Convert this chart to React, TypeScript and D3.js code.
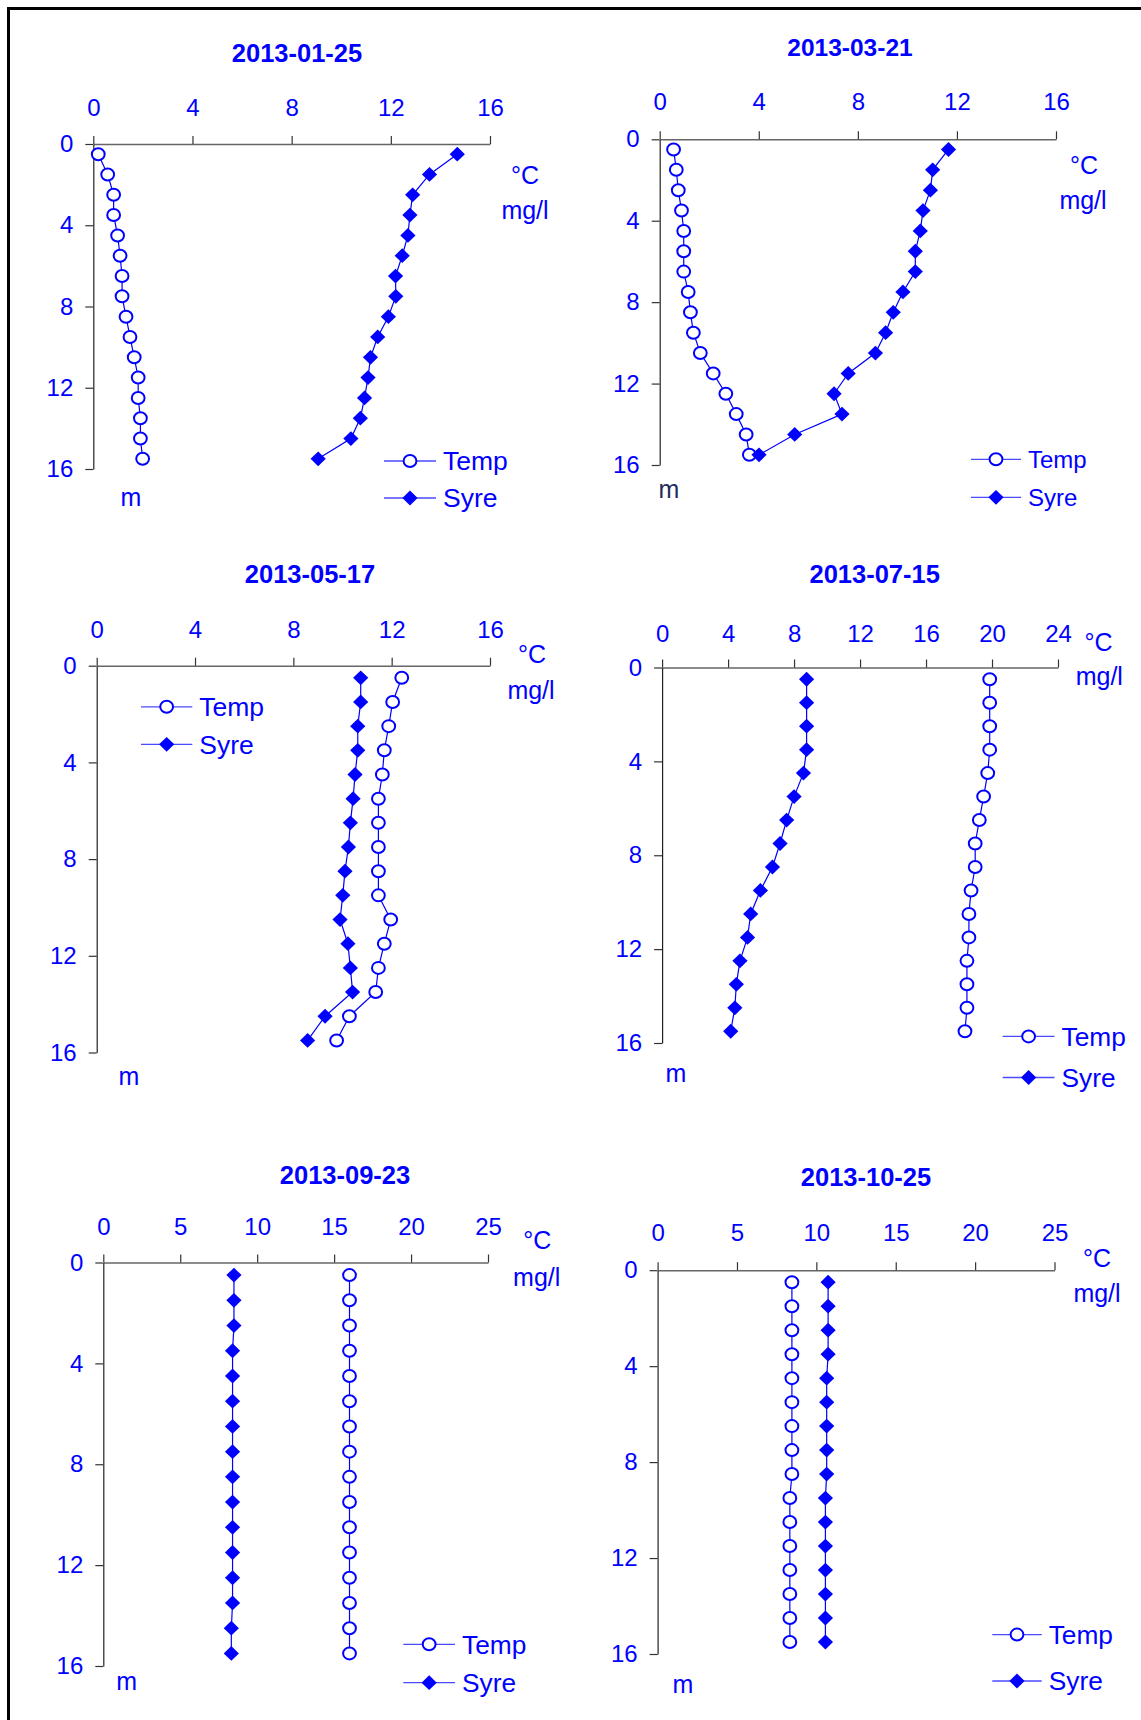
import React, { useEffect, useRef } from "react";
import * as d3 from "d3";

// depth (m) of each measurement
const depths = [0.5, 1.5, 2.5, 3.5, 4.5, 5.5, 6.5, 7.5, 8.5, 9.5, 10.5, 11.5, 12.5, 13.5, 14.5, 15.5];
const dates = ["2013-01-25", "2013-03-21", "2013-05-17", "2013-07-15", "2013-09-23", "2013-10-25"];

const temp_0125 = [0.2, 0.58, 0.82, 0.82, 0.98, 1.08, 1.16, 1.16, 1.32, 1.48, 1.65, 1.81, 1.81, 1.9, 1.9, 1.99];
const syre_0125 = [14.68, 13.56, 12.88, 12.77, 12.69, 12.46, 12.19, 12.2, 11.9, 11.47, 11.18, 11.08, 10.94, 10.77, 10.39, 9.07];

const temp_0321 = [0.56, 0.67, 0.75, 0.88, 0.97, 0.97, 0.97, 1.15, 1.24, 1.36, 1.64, 2.16, 2.67, 3.09, 3.49, 3.62];
const syre_0321 = [11.66, 11.02, 10.93, 10.63, 10.52, 10.32, 10.32, 9.82, 9.43, 9.12, 8.71, 7.61, 7.04, 7.36, 5.45, 4.01];

const temp_0517 = [12.41, 12.04, 11.88, 11.7, 11.62, 11.46, 11.46, 11.46, 11.46, 11.46, 11.96, 11.7, 11.46, 11.35, 10.28, 9.76];
const syre_0517 = [10.74, 10.74, 10.62, 10.62, 10.51, 10.43, 10.32, 10.24, 10.1, 10.01, 9.9, 10.22, 10.32, 10.41, 9.29, 8.58];

const temp_0715 = [19.86, 19.86, 19.86, 19.86, 19.74, 19.49, 19.23, 18.98, 18.98, 18.73, 18.6, 18.6, 18.48, 18.48, 18.48, 18.36];
const syre_0715 = [8.76, 8.76, 8.76, 8.76, 8.57, 8.0, 7.55, 7.15, 6.69, 5.96, 5.37, 5.18, 4.72, 4.5, 4.41, 4.16];

const temp_0923 = [16.0, 16.0, 16.0, 16.0, 16.0, 16.0, 16.0, 16.0, 16.0, 16.0, 16.0, 16.0, 16.0, 16.0, 16.0, 16.0];
const syre_0923 = [8.49, 8.49, 8.49, 8.4, 8.4, 8.4, 8.4, 8.4, 8.4, 8.4, 8.4, 8.4, 8.4, 8.4, 8.32, 8.32];

const temp_1025 = [8.46, 8.46, 8.46, 8.46, 8.46, 8.46, 8.46, 8.46, 8.46, 8.33, 8.33, 8.33, 8.33, 8.33, 8.33, 8.33];
const syre_1025 = [10.74, 10.74, 10.74, 10.74, 10.65, 10.65, 10.65, 10.65, 10.65, 10.57, 10.57, 10.57, 10.57, 10.57, 10.57, 10.57];

const ticks16 = [0, 4, 8, 12, 16];
const ticks24 = [0, 4, 8, 12, 16, 20, 24];
const ticks25 = [0, 5, 10, 15, 20, 25];
const depthTicks = [0, 4, 8, 12, 16];

const seriesNames = ["Temp", "Syre"];

const BLUE = "#0000ff";
const FONT = "'Liberation Sans', Arial, Helvetica, sans-serif";

// layout of each panel (pixel positions in the picture)
const layouts = [
  { x0: 93.3, x1: 490, y0: 144, y1: 469, xmax: 16, ticks: ticks16, pad: 20, title: [297, 53], tfs: 25.5,
    degC: [525, 175], mgl: [525, 210], m: [131, 498], leg: [384, 436, 461, 498], lfs: 26.5, mColor: BLUE },
  { x0: 659.7, x1: 1056, y0: 139.3, y1: 465, xmax: 16, ticks: ticks16, pad: 21, title: [850, 47], tfs: 24.5,
    degC: [1084, 165], mgl: [1083, 200], m: [669, 490], leg: [971, 1021, 459.3, 497.3], lfs: 24, mColor: "#1f2d5c" },
  { x0: 96.7, x1: 490, y0: 665.7, y1: 1052.5, xmax: 16, ticks: ticks16, pad: 20, title: [310, 574], tfs: 25.5,
    degC: [532, 654], mgl: [531, 690], m: [129, 1077.5], leg: [141, 192.3, 706.8, 744.3], lfs: 26.5, mColor: BLUE },
  { x0: 662.1, x1: 1058, y0: 667.5, y1: 1043, xmax: 24, ticks: ticks24, pad: 18, title: [874.7, 574], tfs: 25.5,
    degC: [1098.6, 642], mgl: [1099.3, 676], m: [676, 1074], leg: [1002.7, 1054.5, 1036.4, 1077.5], lfs: 26.3, mColor: BLUE },
  { x0: 103.3, x1: 488, y0: 1262.5, y1: 1666, xmax: 25, ticks: ticks25, pad: 19.5, title: [345, 1175], tfs: 25.5,
    degC: [537.3, 1240.6], mgl: [536.7, 1277], m: [126.7, 1682], leg: [403.3, 455, 1644.3, 1682.7], lfs: 26.3, mColor: BLUE },
  { x0: 657.6, x1: 1054.5, y0: 1270.2, y1: 1654, xmax: 25, ticks: ticks25, pad: 21, title: [866, 1177], tfs: 25.5,
    degC: [1097, 1258.4], mgl: [1097, 1293.5], m: [682.8, 1685.7], leg: [992.3, 1041.7, 1634.6, 1681], lfs: 26.3, mColor: BLUE },
];

const temps = [temp_0125, temp_0321, temp_0517, temp_0715, temp_0923, temp_1025];
const syres = [syre_0125, syre_0321, syre_0517, syre_0715, syre_0923, syre_1025];

const diamond = (w, h) => `M0,${-h}L${w},0L0,${h}L${-w},0Z`;

function drawMarker(g, kind, x, y) {
  if (kind === "Temp") {
    g.append("ellipse").attr("cx", x).attr("cy", y).attr("rx", 6.4).attr("ry", 6)
      .attr("fill", "white").attr("stroke", BLUE).attr("stroke-width", 2);
  } else {
    g.append("path").attr("d", diamond(7.6, 7.4)).attr("transform", `translate(${x},${y})`).attr("fill", BLUE);
  }
}

function App() {
  const ref = useRef(null);

  useEffect(() => {
    const svg = d3.select(ref.current);
    svg.selectAll("*").remove();

    svg.append("rect").attr("width", 1141).attr("height", 1720).attr("fill", "white");
    // frame (left and top edges are visible)
    svg.append("path").attr("d", "M8.5,1720V8.5H1141").attr("fill", "none").attr("stroke", "black").attr("stroke-width", 3);

    layouts.forEach((L, i) => {
      const g = svg.append("g").attr("font-family", FONT);
      const x = d3.scaleLinear().domain([0, L.xmax]).range([L.x0, L.x1]);
      const y = d3.scaleLinear().domain([0, 16]).range([L.y0, L.y1]);

      // x axis on top
      const xa = g.append("g").attr("transform", `translate(0,${L.y0})`)
        .call(d3.axisTop(x).tickValues(L.ticks).tickSize(8).tickSizeOuter(0).tickPadding(L.pad));
      xa.select(".domain").attr("stroke", "#666").attr("stroke-width", 1.5);
      xa.selectAll(".tick line").attr("stroke", "#333").attr("stroke-width", 1.2);
      xa.selectAll("text").attr("fill", BLUE).attr("font-size", 24).attr("font-family", FONT);

      // depth axis
      const ya = g.append("g").attr("transform", `translate(${L.x0},0)`)
        .call(d3.axisLeft(y).tickValues(depthTicks).tickSize(8).tickSizeOuter(0).tickPadding(12));
      ya.select(".domain").attr("stroke", "#222").attr("stroke-width", 1.2);
      ya.selectAll(".tick line").attr("stroke", "#333").attr("stroke-width", 1.2);
      ya.selectAll("text").attr("fill", BLUE).attr("font-size", 24).attr("font-family", FONT);

      // title
      g.append("text").attr("x", L.title[0]).attr("y", L.title[1]).attr("dy", "0.35em")
        .attr("text-anchor", "middle").attr("font-weight", "bold").attr("font-size", L.tfs)
        .attr("fill", BLUE).text(dates[i]);

      // units
      g.append("text").attr("x", L.degC[0]).attr("y", L.degC[1]).attr("dy", "0.35em")
        .attr("text-anchor", "middle").attr("font-size", 25).attr("fill", BLUE).text("°C");
      g.append("text").attr("x", L.mgl[0]).attr("y", L.mgl[1]).attr("dy", "0.35em")
        .attr("text-anchor", "middle").attr("font-size", 25).attr("fill", BLUE).text("mg/l");
      g.append("text").attr("x", L.m[0]).attr("y", L.m[1]).attr("dy", "0.3em")
        .attr("text-anchor", "middle").attr("font-size", 25).attr("fill", L.mColor).text("m");

      // series
      [temps[i], syres[i]].forEach((vals, k) => {
        const pts = vals.map((v, j) => [x(v), y(depths[j])]);
        g.append("path").attr("d", d3.line()(pts)).attr("fill", "none").attr("stroke", BLUE).attr("stroke-width", 1.2);
        pts.forEach((p) => drawMarker(g, seriesNames[k], p[0], p[1]));
      });

      // legend
      seriesNames.forEach((name, k) => {
        const ly = L.leg[2 + k];
        g.append("line").attr("x1", L.leg[0]).attr("x2", L.leg[1]).attr("y1", ly).attr("y2", ly)
          .attr("stroke", "#4a4aff").attr("stroke-width", 1.3);
        drawMarker(g, name, (L.leg[0] + L.leg[1]) / 2, ly);
        g.append("text").attr("x", L.leg[1] + 7).attr("y", ly).attr("dy", "0.35em")
          .attr("font-size", L.lfs).attr("fill", BLUE).text(name);
      });
    });
  }, []);

  return (
    <svg ref={ref} width={1141} height={1720} style={{ position: "absolute", left: 0, top: 0 }} />
  );
}

export default App;
